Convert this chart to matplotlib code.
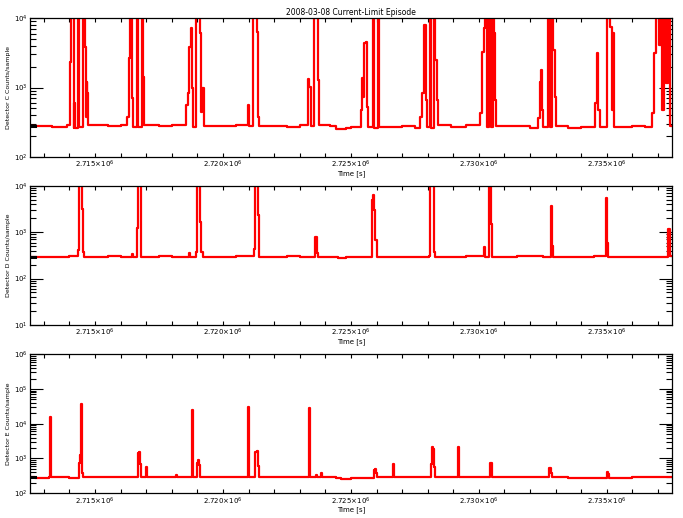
import numpy as np
import matplotlib
matplotlib.use("Agg")
import matplotlib.pyplot as plt
from matplotlib.ticker import MultipleLocator, LogLocator, FuncFormatter, NullFormatter

# time in ks (x 1000 s), counts/sample; 30000 = saturated spike (clipped at top)
c_t = [2712.46, 2712.65, 2713.3, 2713.9, 2714.02, 2714.06, 2714.16, 2714.18, 2714.22, 2714.33,
       2714.36, 2714.53, 2714.59, 2714.63, 2714.67, 2714.70, 2714.73, 2715.5, 2716.0, 2716.25,
       2716.31, 2716.37, 2716.43, 2716.47, 2716.65, 2716.69, 2716.84, 2716.88, 2716.92, 2717.5,
       2718.0, 2718.57, 2718.65, 2718.68, 2718.76, 2718.80, 2718.84, 2718.96, 2719.12, 2719.16,
       2719.19, 2719.27, 2720.0, 2720.5, 2720.96, 2721.00, 2721.19, 2721.31, 2721.37, 2721.41,
       2722.5, 2723.0, 2723.31, 2723.37, 2723.43, 2723.55, 2723.70, 2723.74, 2724.2, 2724.4,
       2724.6, 2724.8, 2725.0, 2725.39, 2725.43, 2725.47, 2725.51, 2725.57, 2725.62, 2725.66,
       2725.88, 2725.92, 2726.05, 2726.09, 2727.0, 2727.5, 2727.70, 2727.78, 2727.86, 2727.94,
       2727.98, 2728.08, 2728.14, 2728.25, 2728.30, 2728.37, 2728.41, 2728.9, 2729.5, 2730.05,
       2730.13, 2730.21, 2730.24, 2730.30, 2730.40, 2730.46, 2730.55, 2730.60, 2730.64, 2730.68,
       2731.5, 2732.0, 2732.32, 2732.39, 2732.43, 2732.47, 2732.52, 2732.72, 2732.76, 2732.85,
       2732.89, 2732.98, 2733.02, 2733.5, 2734.0, 2734.55, 2734.61, 2734.66, 2734.74, 2734.79,
       2735.00, 2735.13, 2735.20, 2735.24, 2735.29, 2736.0, 2736.5, 2736.77, 2736.85, 2736.93,
       2737.05, 2737.10, 2737.17, 2737.25, 2737.33, 2737.40, 2737.46, 2737.55]
c_v = [280, 280, 272, 285, 2330, 30000, 260, 600, 265, 30000,
       270, 30000, 3830, 377, 1200, 830, 285, 275, 285, 377,
       2650, 30000, 706, 270, 30000, 270, 30000, 1420, 285, 275,
       285, 560, 834, 3830, 7180, 985, 270, 30000, 6080, 444,
       985, 280, 275, 285, 560, 280, 30000, 6290, 377, 280,
       270, 285, 1325, 1015, 280, 30000, 1280, 285, 275, 255,
       250, 262, 270, 475, 1370, 730, 4360, 4520, 524, 270,
       30000, 260, 30000, 270, 275, 265, 377, 834, 7920, 660,
       270, 30000, 260, 30000, 2490, 660, 285, 270, 285, 430,
       3240, 7180, 30000, 270, 30000, 270, 30000, 6080, 660, 280,
       275, 265, 364, 1200, 1790, 475, 270, 30000, 270, 30000,
       3470, 730, 275, 265, 270, 600, 3130, 475, 270, 270,
       30000, 7430, 475, 6080, 270, 275, 270, 430, 3130, 30000,
       4090, 30000, 475, 30000, 1160, 30000, 280, 280]

d_t = [2712.46, 2712.65, 2713.9, 2714.0, 2714.33, 2714.37, 2714.49, 2714.53, 2714.57, 2715.5,
       2716.0, 2716.45, 2716.50, 2716.65, 2716.69, 2716.80, 2717.5, 2718.0, 2718.68, 2718.72,
       2718.96, 2719.00, 2719.12, 2719.16, 2719.20, 2720.0, 2720.5, 2721.23, 2721.27, 2721.35,
       2721.39, 2722.5, 2723.0, 2723.59, 2723.66, 2723.70, 2724.3, 2724.5, 2724.8, 2725.2,
       2725.82, 2725.86, 2725.90, 2725.96, 2726.02, 2727.0, 2727.5, 2728.05, 2728.09, 2728.25,
       2728.29, 2729.0, 2729.5, 2730.21, 2730.25, 2730.40, 2730.48, 2730.52, 2731.5, 2732.5,
       2732.82, 2732.86, 2732.90, 2733.5, 2734.5, 2734.98, 2735.02, 2735.06, 2736.5, 2737.40,
       2737.46, 2737.55]
d_v = [295, 295, 290, 300, 417, 30000, 3200, 378, 290, 300,
       285, 340, 295, 1245, 30000, 295, 300, 290, 355, 295,
       378, 30000, 1680, 378, 295, 290, 300, 437, 30000, 2380,
       295, 300, 290, 795, 355, 295, 290, 280, 290, 285,
       5000, 6440, 3020, 690, 290, 290, 295, 300, 30000, 378,
       295, 290, 300, 484, 295, 30000, 1500, 295, 300, 290,
       3720, 500, 295, 290, 300, 5530, 600, 295, 295, 1180,
       300, 300]

e_t = [2712.46, 2712.65, 2713.20, 2713.24, 2713.28, 2714.0, 2714.37, 2714.41, 2714.45, 2714.49,
       2714.53, 2716.69, 2716.72, 2716.76, 2716.80, 2717.00, 2717.04, 2718.18, 2718.22, 2718.80,
       2718.84, 2719.00, 2719.04, 2719.08, 2719.12, 2719.5, 2720.96, 2721.00, 2721.27, 2721.31,
       2721.35, 2721.39, 2723.35, 2723.39, 2723.62, 2723.66, 2723.82, 2723.86, 2724.4, 2724.6,
       2725.0, 2725.90, 2725.94, 2725.98, 2726.02, 2726.64, 2726.68, 2728.13, 2728.17, 2728.21,
       2728.25, 2728.29, 2729.19, 2729.23, 2730.44, 2730.48, 2730.52, 2732.75, 2732.79, 2732.83,
       2732.87, 2733.5, 2734.0, 2735.00, 2735.04, 2735.08, 2736.0, 2737.36, 2737.40, 2737.55]
e_v = [289, 270, 289, 15400, 289, 270, 730, 1240, 36400, 377,
       289, 1415, 1500, 685, 289, 560, 289, 330, 289, 24500,
       289, 730, 890, 640, 300, 289, 29900, 289, 1500, 1610,
       600, 289, 27900, 289, 330, 289, 377, 289, 270, 260,
       275, 458, 490, 377, 285, 685, 285, 685, 2110, 1850,
       560, 289, 2110, 289, 730, 730, 300, 525, 525, 377,
       289, 270, 275, 400, 350, 280, 289, 300, 289, 289]

panels = [
    (c_t, c_v, "Detector C Counts/sample", (1e2, 1e4)),
    (d_t, d_v, "Detector D Counts/sample", (1e1, 1e4)),
    (e_t, e_v, "Detector E Counts/sample", (1e2, 1e6)),
]
# axes boxes [left, bottom, width, height] in figure fraction
boxes = [[0.044, 0.697, 0.940, 0.268],
         [0.044, 0.373, 0.940, 0.268],
         [0.044, 0.048, 0.940, 0.268]]

fig = plt.figure(figsize=(6.83, 5.18), dpi=100)

def xfmt(x, pos):
    return r'$%.3f\!\times\!10^{6}$' % (x / 1000.0)

def yfmt(y, pos):
    return r'$10^{%d}$' % int(round(np.log10(y)))

for i, (t, v, ylab, ylim) in enumerate(panels):
    ax = fig.add_axes(boxes[i])
    ax.step(t, v, where='post', color='red', lw=1.6)
    ax.plot(t[:2], [v[0], v[0]], color='black', lw=2.2)
    ax.set_yscale('log')
    ax.set_xlim(2712.46, 2737.55)
    ax.set_ylim(*ylim)
    ax.xaxis.set_major_locator(MultipleLocator(5))
    ax.xaxis.set_minor_locator(MultipleLocator(1))
    ax.xaxis.set_major_formatter(FuncFormatter(xfmt))
    ax.yaxis.set_major_locator(LogLocator(base=10))
    ax.yaxis.set_minor_locator(LogLocator(base=10, subs=np.arange(2, 10)))
    ax.yaxis.set_major_formatter(FuncFormatter(yfmt))
    ax.yaxis.set_minor_formatter(NullFormatter())
    ax.tick_params(axis='both', which='both', direction='in', top=True, right=True,
                   labelsize=5, width=0.8, pad=1.5)
    ax.tick_params(axis='x', which='both', length=3)
    ax.tick_params(axis='y', which='major', length=9.5)
    ax.tick_params(axis='y', which='minor', length=4.5)
    for s in ax.spines.values():
        s.set_linewidth(0.9)
    ax.set_xlabel("Time [s]", fontsize=5, labelpad=0)
    ax.set_ylabel(ylab, fontsize=4.5, labelpad=2)
    if i == 0:
        ax.set_title("2008-03-08 Current-Limit Episode", fontsize=5.5, pad=2)

fig.savefig("out.png", dpi=100)
